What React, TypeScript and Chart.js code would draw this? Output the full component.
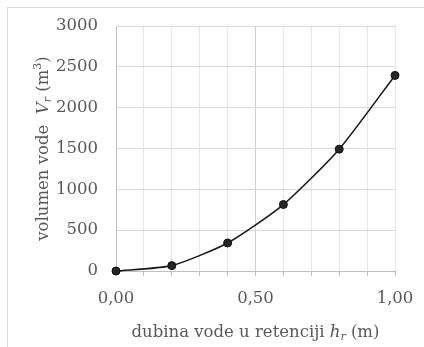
import React, { useEffect, useRef } from "react";
import { Chart, registerables } from "chart.js";

Chart.register(...registerables);

const depths = [0, 0.2, 0.4, 0.6, 0.8, 1.0];
const volumes = [0, 66, 343, 814, 1492, 2395];
const xLabeled = [0, 0.5, 1.0];

type Seg = { t: string; italic?: boolean; sub?: boolean; sup?: boolean };
const xTitle: Seg[] = [
  { t: "dubina vode u retenciji " },
  { t: "h", italic: true },
  { t: "r", italic: true, sub: true },
  { t: " (m)" },
];
const yTitle: Seg[] = [
  { t: "volumen vode  " },
  { t: "V", italic: true },
  { t: "r", italic: true, sub: true },
  { t: " (m" },
  { t: "3", sup: true },
  { t: ")" },
];

const FONT = "'DejaVu Serif', serif";
const TEXT = "#595959";
const BASE = 16.5;

function segFont(s: Seg) {
  const size = s.sub || s.sup ? Math.round(BASE * 0.68) : BASE;
  return `${s.italic ? "italic " : ""}${size}px ${FONT}`;
}

function drawRich(ctx: CanvasRenderingContext2D, segs: Seg[], cx: number, baseline: number) {
  let total = 0;
  const widths = segs.map((s) => {
    ctx.font = segFont(s);
    const w = ctx.measureText(s.t).width;
    total += w;
    return w;
  });
  let x = cx - total / 2;
  ctx.textBaseline = "alphabetic";
  ctx.textAlign = "left";
  ctx.fillStyle = TEXT;
  segs.forEach((s, i) => {
    ctx.font = segFont(s);
    const dy = s.sub ? 3 : s.sup ? -7 : 0;
    ctx.fillText(s.t, x, baseline + dy);
    x += widths[i];
  });
}

const titlePlugin = {
  id: "richTitles",
  afterDraw(chart: any) {
    const { ctx, chartArea } = chart;
    ctx.save();
    drawRich(ctx, xTitle, (chartArea.left + chartArea.right) / 2, 337);
    ctx.restore();
    ctx.save();
    ctx.translate(48, (chartArea.top + chartArea.bottom) / 2);
    ctx.rotate(-Math.PI / 2);
    drawRich(ctx, yTitle, 0, 0);
    ctx.restore();
  },
};

export default function App() {
  const ref = useRef<HTMLCanvasElement>(null);
  useEffect(() => {
    const canvas = ref.current!;
    const chart = new Chart(canvas, {
      type: "scatter",
      data: {
        datasets: [
          {
            data: depths.map((d, i) => ({ x: d, y: volumes[i] })),
            showLine: true,
            borderColor: "#1a1a1a",
            borderWidth: 1.6,
            tension: 0.2,
            pointRadius: 4,
            pointBackgroundColor: "#262626",
            pointBorderColor: "#0d0d0d",
            pointBorderWidth: 1,
            clip: false as any,
          },
        ],
      },
      options: {
        responsive: false,
        animation: false,
        events: [],
        layout: { padding: { left: 0, top: 26, right: 29, bottom: 0 } },
        plugins: { legend: { display: false }, tooltip: { enabled: false } },
        scales: {
          x: {
            type: "linear",
            min: 0,
            max: 1,
            afterFit: (s: any) => {
              s.height = 76;
              s.paddingLeft = 0;
              s.paddingRight = 0;
            },
            ticks: {
              stepSize: 0.1,
              autoSkip: false,
              maxRotation: 0,
              padding: 13,
              color: TEXT,
              font: { family: FONT, size: BASE },
              callback: (v: any) => {
                const n = Number(v);
                return xLabeled.some((l) => Math.abs(l - n) < 1e-6) ? n.toFixed(2).replace(".", ",") : "";
              },
            },
            grid: {
              color: (c: any) => (c.tick && Math.abs(c.tick.value - 0.5) < 1e-6 ? "#d0d0d0" : "#e6e6e6"),
              tickColor: "#bfbfbf",
              tickLength: 5,
              drawTicks: true,
            },
            border: { color: "#bfbfbf", width: 1 },
          },
          y: {
            type: "linear",
            min: 0,
            max: 3000,
            afterFit: (s: any) => {
              s.width = 116;
              s.paddingTop = 0;
              s.paddingBottom = 0;
            },
            ticks: {
              stepSize: 500,
              padding: 18,
              color: TEXT,
              font: { family: FONT, size: BASE },
              callback: (v: any) => String(v),
            },
            grid: { color: "#d9d9d9", drawTicks: false },
            border: { color: "#bfbfbf", width: 1 },
          },
        },
      },
      plugins: [titlePlugin],
    });
    return () => chart.destroy();
  }, []);

  return (
    <div style={{ position: "fixed", left: 0, top: 0, width: 424, height: 347, overflow: "hidden", background: "#fff" }}>
      <div
        style={{
          position: "absolute",
          left: 7,
          top: 7,
          width: 450,
          height: 400,
          borderLeft: "1px solid #d9d9d9",
          borderTop: "1px solid #d9d9d9",
        }}
      />
      <canvas ref={ref} width={424} height={347} style={{ position: "absolute", left: 0, top: 0, width: 424, height: 347 }} />
    </div>
  );
}
